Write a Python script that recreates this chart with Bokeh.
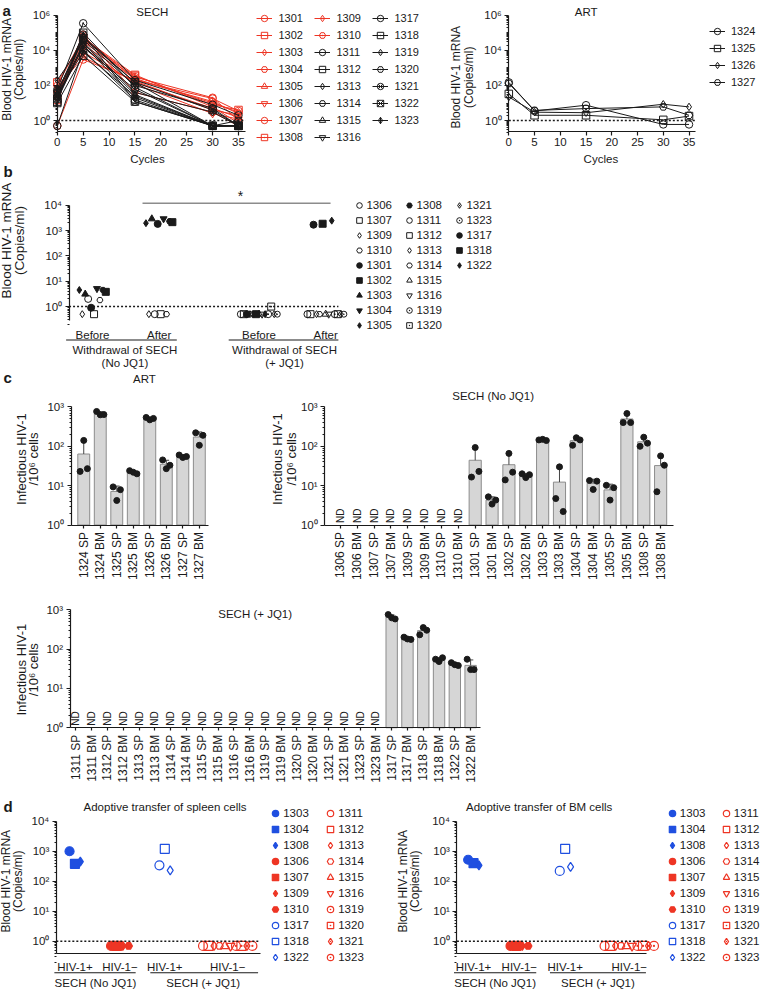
import math
import statistics
from bokeh.plotting import figure
from bokeh.models import (Range1d, LogScale, LinearAxis, LogAxis, FixedTicker,
                          CustomJSTickFormatter, Label, Legend, LegendItem)
from bokeh.embed import file_html
from bokeh.resources import INLINE
from bokeh.core.properties import value

FONT = "Liberation Sans"
INK = "#1a1a1a"
RED = "#ee3524"
BLUE = "#1f4fe0"
GREY = "#8c8c8c"
BAR_FILL = "#d6d6d6"

# ======================= DATA =======================
# (a) blood HIV-1 RNA (copies/ml) at each treatment cycle
cycles = [0, 5, 15, 30, 35]
sech_mice = ["1301", "1302", "1303", "1304", "1305", "1306", "1307", "1308", "1309", "1310",
             "1311", "1312", "1313", "1314", "1315", "1316", "1317", "1318", "1319", "1320",
             "1321", "1322", "1323"]
sech_rna = [
    [0.5, 3000, 200, 18, 3.5],
    [150, 40000, 350, 8, 4],
    [30, 20000, 250, 10, 3],
    [100, 60000, 220, 12, 2.5],
    [60, 8000, 150, 5, 1.5],
    [20, 15000, 120, 2.5, 1.2],
    [40, 30000, 300, 20, 1],
    [15, 50000, 400, 6, 0.7],
    [80, 4000, 180, 4, 2],
    [25, 80000, 40, 3, 0.5],
    [0.5, 10000, 15, 0.5, 0.5],
    [10, 5000, 12, 0.5, 0.5],
    [20, 25000, 30, 0.5, 0.5],
    [50, 40000, 100, 5, 0.5],
    [30, 60000, 150, 0.5, 0.5],
    [15, 20000, 20, 0.5, 0.5],
    [60, 350000, 200, 8, 2],
    [12, 100000, 80, 0.5, 0.5],
    [200, 30000, 40, 3, 0.5],
    [25, 15000, 60, 0.5, 1],
    [40, 80000, 12, 0.5, 0.5],
    [18, 50000, 150, 4, 0.5],
    [35, 8000, 25, 0.5, 0.5],
]
art_mice = ["1324", "1325", "1326", "1327"]
art_rna = [
    [150, 3.5, 7.5, 0.6, 0.6],
    [33, 2.0, 2.0, 1.1, 1.8],
    [22, 3.0, 2.8, 8.5, 6.0],
    [130, 3.8, 4.8, 6.0, 2.0],
]

# (b) before / after withdrawal of SECH
nojq1_mice = ["1301", "1302", "1303", "1304", "1305", "1306", "1307", "1308", "1309", "1310"]
nojq1_before = [0.9, 3.8, 3.1, 5.1, 4.5, 2.0, 0.5, 4.5, 0.5, 1.8]
nojq1_after = [1830, 2140, 2900, 2900, 1950, 0.5, 0.5, 2300, 0.5, 0.5]
jq1_mice = ["1311", "1312", "1313", "1314", "1315", "1316", "1317", "1318", "1319", "1320",
            "1321", "1322", "1323"]
jq1_before = [0.5, 0.5, 0.5, 0.5, 0.5, 0.5, 0.5, 0.5, 0.5, 1.0, 0.5, 0.5, 0.5]
jq1_after = [0.5, 0.5, 0.5, 0.5, 0.5, 0.5, 1700, 1850, 0.5, 0.5, 0.5, 2450, 0.5]
b_ticks = ["Before", "After", "Before", "After"]
b_groups = [("Withdrawal of SECH", "(No JQ1)"), ("Withdrawal of SECH", "(+ JQ1)")]
b_legend_order = ["1306", "1307", "1309", "1310", "1301", "1302", "1303", "1304", "1305",
                  "1308", "1311", "1312", "1313", "1314", "1315", "1316", "1319", "1320",
                  "1321", "1323", "1317", "1318", "1322"]
b_nojq1_order = ["1305", "1309", "1303", "1306", "1301", "1307", "1304", "1310", "1308", "1302"]
b_jq1_order = ["1311", "1312", "1317", "1313", "1314", "1318", "1315", "1316", "1322", "1319",
               "1320", "1321", "1323"]

# (c) infectious HIV-1 per 10^6 cells (triplicates; None = not detected)
c_art_labels = ["1324 SP", "1324 BM", "1325 SP", "1325 BM", "1326 SP", "1326 BM", "1327 SP", "1327 BM"]
c_art_reps = [[23, 141, 27], [766, 631, 640], [9.3, 4.2, 7.9], [24, 21.9, 20],
              [540, 470, 510], [45, 27, 33], [60, 52, 55], [220, 106, 190]]
c_nojq1_labels = ["1306 SP", "1306 BM", "1307 SP", "1307 BM", "1309 SP", "1309 BM", "1310 SP", "1310 BM",
                  "1301 SP", "1301 BM", "1302 SP", "1302 BM", "1303 SP", "1303 BM", "1304 SP", "1304 BM",
                  "1305 SP", "1305 BM", "1308 SP", "1308 BM"]
c_nojq1_reps = [None, None, None, None, None, None, None, None,
                [16.5, 93, 23], [5.2, 3.4, 4.3], [14, 66, 22], [20, 16, 19],
                [145, 150, 140], [4.7, 30, 2.2], [106, 165, 145], [13.5, 8, 13],
                [10.2, 4.3, 8.9], [400, 680, 400], [100, 170, 120], [7, 57, 33]]
c_jq1_labels = ["1311 SP", "1311 BM", "1312 SP", "1312 BM", "1313 SP", "1313 BM", "1314 SP", "1314 BM",
                "1315 SP", "1315 BM", "1316 SP", "1316 BM", "1319 SP", "1319 BM", "1320 SP", "1320 BM",
                "1321 SP", "1321 BM", "1323 SP", "1323 BM", "1317 SP", "1317 BM", "1318 SP", "1318 BM",
                "1322 SP", "1322 BM"]
c_jq1_reps = [None, None, None, None, None, None, None, None, None, None,
              None, None, None, None, None, None, None, None, None, None,
              [750, 620, 580], [200, 180, 175], [230, 350, 300], [55, 48, 60],
              [45, 40, 38], [55, 30, 30]]

# (d) adoptive transfer
d_pos_nojq1 = ["1303", "1304", "1308"]
d_neg_nojq1 = ["1306", "1307", "1309", "1310"]
d_pos_jq1 = ["1317", "1318", "1322"]
d_neg_jq1 = ["1311", "1312", "1313", "1314", "1315", "1316", "1319", "1320", "1321", "1323"]
d_spleen = {"1303": 1000, "1304": 380, "1308": 450,
            "1306": 0.7, "1307": 0.7, "1309": 0.7, "1310": 0.7,
            "1317": 340, "1318": 1200, "1322": 230,
            "1311": 0.7, "1312": 0.7, "1313": 0.7, "1314": 0.7, "1315": 0.7,
            "1316": 0.7, "1319": 0.7, "1320": 0.7, "1321": 0.7, "1323": 0.7}
d_bm = {"1303": 520, "1304": 400, "1308": 340,
        "1306": 0.7, "1307": 0.7, "1309": 0.7, "1310": 0.7,
        "1317": 220, "1318": 1200, "1322": 300,
        "1311": 0.7, "1312": 0.7, "1313": 0.7, "1314": 0.7, "1315": 0.7,
        "1316": 0.7, "1319": 0.7, "1320": 0.7, "1321": 0.7, "1323": 0.7}
d_ticks = ["HIV-1+", "HIV-1\u2212", "HIV-1+", "HIV-1\u2212"]
d_groups = ["SECH (No JQ1)", "SECH (+ JQ1)"]
d_legend_order = ["1303", "1304", "1308", "1306", "1307", "1309", "1310", "1317", "1318", "1322",
                  "1311", "1312", "1313", "1314", "1315", "1316", "1319", "1320", "1321", "1323"]

# ======================= STYLE MAPS =======================
sech_marker = ["circle", "square", "diamond", "hex", "triangle", "inverted_triangle", "circle_dot",
               "square_dot", "diamond_dot", "hex_dot",
               "circle", "square", "diamond", "hex", "triangle", "inverted_triangle", "circle_dot",
               "square_dot", "diamond_dot", "hex_dot", "circle_x", "square_x", "diamond_cross"]
art_marker = ["circle", "square", "diamond", "hex"]
B_SYMBOL = {"1301": "circle", "1302": "square", "1303": "triangle", "1304": "inverted_triangle",
            "1305": "diamond", "1306": "circle", "1307": "square", "1308": "hex", "1309": "diamond",
            "1310": "hex", "1311": "circle", "1312": "square", "1313": "diamond", "1314": "hex",
            "1315": "triangle", "1316": "inverted_triangle", "1317": "circle", "1318": "square",
            "1319": "circle_dot", "1320": "square_dot", "1321": "diamond_dot", "1322": "diamond",
            "1323": "circle_dot"}
B_FILLED = {"1301", "1302", "1303", "1304", "1305", "1308", "1317", "1318", "1322"}
D_SYMBOL = dict(B_SYMBOL)
D_SYMBOL.update({"1303": "circle", "1304": "square", "1308": "diamond"})
D_FILLED = set(d_pos_nojq1 + d_neg_nojq1)
D_BLUE = set(d_pos_nojq1 + d_pos_jq1)

# ======================= CANVAS =======================
W, H = 761, 989
SX, SY = W / 777.0, H / 1005.0


def X(r):
    return r * SX


def Y(r):
    return r * SY


p = figure(width=W, height=H, x_range=Range1d(0, W), y_range=Range1d(H, 0),
           x_axis_type=None, y_axis_type=None, toolbar_location=None,
           output_backend="svg", min_border=0, outline_line_color=None)
p.background_fill_color = "white"
p.border_fill_color = "white"

XR, YR, YS = {}, {}, {}


def space(name, rx, dx, ry, dy):
    ca, cb = X(rx[0]), X(rx[1])
    k = (cb - ca) / (dx[1] - dx[0])
    XR[name] = Range1d(dx[0] - ca / k, dx[0] + (W - ca) / k)
    ua, ub = math.log10(dy[0]), math.log10(dy[1])
    ca, cb = Y(ry[0]), Y(ry[1])
    k = (cb - ca) / (ub - ua)
    YR[name] = Range1d(10 ** (ua + (H - ca) / k), 10 ** (ua - ca / k))
    YS[name] = LogScale()


POW = CustomJSTickFormatter(code="""
const e = Math.round(Math.log10(tick));
const s = {'-':'\u207b','0':'\u2070','1':'\u00b9','2':'\u00b2','3':'\u00b3','4':'\u2074',
           '5':'\u2075','6':'\u2076','7':'\u2077','8':'\u2078','9':'\u2079'};
return '10' + String(e).split('').map(c => s[c]).join('');
""")


def label_fmt(tick_values, tick_labels):
    return CustomJSTickFormatter(args=dict(tv=list(tick_values), tl=list(tick_labels)), code="""
for (let i = 0; i < tv.length; i++) { if (Math.abs(tv[i] - tick) < 1e-6) return tl[i]; }
return '';
""")


def style_axis(ax, size):
    ax.axis_line_color = INK
    ax.axis_line_width = 1.2
    ax.major_tick_line_color = INK
    ax.major_tick_line_width = 1.2
    ax.minor_tick_line_color = INK
    ax.minor_tick_line_width = 1
    ax.major_tick_in = 0
    ax.major_tick_out = 4
    ax.minor_tick_in = 0
    ax.minor_tick_out = 2
    ax.major_label_text_font = FONT
    ax.major_label_text_font_size = size
    ax.major_label_text_color = INK
    ax.major_label_standoff = 3


def log_minors(k0, k1, skip=()):
    out = [m * 10.0 ** k for k in range(k0, k1) for m in range(2, 10)]
    return out + [10.0 ** k for k in skip]


def y_axis(name, xloc, lo, hi, majors, minors, size="11.5px"):
    ax = LogAxis(x_range_name=name, y_range_name=name, fixed_location=xloc, bounds=(lo, hi),
                 ticker=FixedTicker(ticks=majors, minor_ticks=minors), formatter=POW)
    style_axis(ax, size)
    p.add_layout(ax, "left")
    return ax


def x_axis(name, yloc, lo, hi, ticks, labels=None, size="11.5px"):
    ax = LinearAxis(x_range_name=name, y_range_name=name, fixed_location=yloc, bounds=(lo, hi),
                    ticker=FixedTicker(ticks=ticks, minor_ticks=[]))
    if labels is not None:
        ax.formatter = label_fmt(ticks, labels)
    style_axis(ax, size)
    p.add_layout(ax, "below")
    return ax


def lab(text, rx, ry, size="11.5px", align="center", baseline="middle", angle=0.0, bold=False):
    p.add_layout(Label(x=X(rx), y=Y(ry), text=text, text_align=align, text_baseline=baseline,
                       angle=angle, text_font=FONT, text_font_size=size, text_color=INK,
                       text_font_style="bold" if bold else "normal"))


def ytitle(lines, rxs, ry, size):
    for t, rx in zip(lines, rxs):
        lab(t, rx, ry, size=size, angle=math.pi / 2)


def rule(rx0, rx1, ry, color=INK, width=1.2):
    p.segment(x0=[X(rx0)], y0=[Y(ry)], x1=[X(rx1)], y1=[Y(ry)], line_color=color, line_width=width)


def make_legend(items, cx_r, cy_r, nrows, glyph, spacing, standoff, label_w, size):
    lh = nrows * glyph + (nrows - 1) * spacing
    top = Y(cy_r) - glyph / 2.0
    left = X(cx_r) - glyph / 2.0
    leg = Legend(items=items, location=(left, H - top - lh), nrows=nrows, orientation="vertical",
                 glyph_width=glyph, glyph_height=glyph, label_height=glyph, label_width=label_w,
                 label_standoff=standoff, spacing=spacing, padding=0, margin=0,
                 border_line_alpha=0, background_fill_alpha=0,
                 label_text_font=FONT, label_text_font_size=size, label_text_color=INK)
    p.add_layout(leg)


def spread(order, step_px, k):
    n = len(order)
    return {m: (i - (n - 1) / 2.0) * step_px / k for i, m in enumerate(order)}


# ======================= PANEL A =======================
A_DEC = (122 - 15) / 6.0
A_LO = 10 ** (-(133 - 122) / A_DEC)
A_XK = (243 - 58) / 35.0
A_XEND = (250 - 58) / A_XK
A_MAJ = [1, 1e2, 1e4, 1e6]
A_MIN = log_minors(-1, 6, skip=(1, 3, 5))

space("a1", (58, 243), (0, 35), (122, 15), (1, 1e6))
a1_items = []
for i, m in enumerate(sech_mice):
    c = RED if i < 10 else INK
    r1 = p.line(cycles, sech_rna[i], line_color=c, line_width=1, x_range_name="a1", y_range_name="a1")
    r2 = p.scatter(cycles, sech_rna[i], marker=sech_marker[i], size=7.5, line_color=c,
                   fill_color=None, line_width=1, x_range_name="a1", y_range_name="a1")
    a1_items.append(LegendItem(label=m, renderers=[r1, r2]))
p.line([0, A_XEND], [1, 1], line_dash="2 2", line_color=INK, line_width=1.4,
       x_range_name="a1", y_range_name="a1")
y_axis("a1", 0, A_LO, 1e6, A_MAJ, A_MIN)
x_axis("a1", A_LO, 0, A_XEND, [0, 5, 10, 15, 20, 25, 30, 35])
make_legend(a1_items, 270, 18, 8, 16, 1, 6, 35, "11px")

space("a2", (519, 703), (0, 35), (122, 15), (1, 1e6))
a2_items = []
for i, m in enumerate(art_mice):
    r1 = p.line(cycles, art_rna[i], line_color=INK, line_width=1, x_range_name="a2", y_range_name="a2")
    r2 = p.scatter(cycles, art_rna[i], marker=art_marker[i], size=7.5, line_color=INK,
                   fill_color=None, line_width=1, x_range_name="a2", y_range_name="a2")
    a2_items.append(LegendItem(label=m, renderers=[r1, r2]))
p.line([0, A_XEND], [1, 1], line_dash="2 2", line_color=INK, line_width=1.4,
       x_range_name="a2", y_range_name="a2")
y_axis("a2", 0, A_LO, 1e6, A_MAJ, A_MIN)
x_axis("a2", A_LO, 0, A_XEND, [0, 5, 10, 15, 20, 25, 30, 35])
make_legend(a2_items, 732, 32, 4, 16, 1, 6, 35, "11px")

lab("a", 2, 10, size="15px", align="left", bold=True)
lab("SECH", 155, 12)
lab("ART", 598, 12)
lab("Cycles", 150, 161)
lab("Cycles", 613, 161)
ytitle(["Blood HIV-1 mRNA", "(Copies/ml)"], [6.5, 18.5], 70, "12px")
ytitle(["Blood HIV-1 mRNA", "(Copies/ml)"], [465, 478], 78, "12px")

# ======================= PANEL B =======================
B_K = (332 - 94) / 3.5
B_DEC = (311 - 208) / 4.0
B_X0 = 1 - (94 - 70) / B_K
B_X1 = 4.5 + (345 - 332) / B_K
B_LO = 10 ** (-(325 - 311) / B_DEC)
space("b", (94, 332), (1, 4.5), (311, 208), (1, 1e4))
off1 = spread(b_nojq1_order, 3.0, B_K)
off2 = spread(b_jq1_order, 3.1, B_K)
b_rend = {}
for mice, before, after, off, gx in ((nojq1_mice, nojq1_before, nojq1_after, off1, (1, 2)),
                                     (jq1_mice, jq1_before, jq1_after, off2, (3.5, 4.5))):
    for m, v0, v1 in zip(mice, before, after):
        mk = B_SYMBOL[m]
        sz = 6 if mk == "hex" or m == "1323" else 7
        b_rend[m] = p.scatter([gx[0] + off[m], gx[1] + off[m]], [v0, v1], marker=mk, size=sz,
                              line_color=INK, fill_color=INK if m in B_FILLED else None,
                              line_width=1, x_range_name="b", y_range_name="b")
p.line([B_X0, B_X1], [1, 1], line_dash="2 2", line_color=INK, line_width=1.4,
       x_range_name="b", y_range_name="b")
y_axis("b", B_X0, B_LO, 1e4, [1, 10, 100, 1e3, 1e4], log_minors(-1, 4))
bx = x_axis("b", B_LO, B_X0, B_X1, [1, 2, 3.5, 4.5], b_ticks)
bx.axis_line_color = None
bx.major_tick_line_color = None
bx.major_label_standoff = 5
make_legend([LegendItem(label=m, renderers=[b_rend[m]]) for m in b_legend_order],
            367, 208, 9, 14, 1, 0, 35, "11.5px")

lab("b", 3, 174, size="15px", align="left", bold=True)
rule(145, 337, 206, color=GREY, width=1.5)
lab("*", 245, 199, size="14px")
ytitle(["Blood HIV-1 mRNA", "(Copies/ml)"], [6.5, 19.5], 244, "13.5px")
rule(67, 180, 345)
rule(233, 345, 345)
for (l1, l2), cx in zip(b_groups, (127, 290)):
    lab(l1, cx, 355)
    lab(l2, cx, 368)

# ======================= PANEL C =======================
DOT_OFF = (-0.22, 0.0, 0.22)


def bar_panel(name, labels, reps, rx, ry, frame_l, frame_r):
    n = len(labels)
    k = (rx[1] - rx[0]) / (n - 1.0)
    space(name, rx, (0, n - 1), ry, (1, 1000))
    x0 = -(rx[0] - frame_l) / k
    x1 = (n - 1) + (frame_r - rx[1]) / k
    det = [i for i in range(n) if reps[i] is not None]
    nd = [i for i in range(n) if reps[i] is None]
    means = [statistics.mean(reps[i]) for i in det]
    tops = [statistics.mean(reps[i]) + statistics.stdev(reps[i]) for i in det]
    kw = dict(x_range_name=name, y_range_name=name)
    p.vbar(x=det, top=means, bottom=1, width=0.72, fill_color=BAR_FILL, line_color=GREY,
           line_width=1, **kw)
    p.segment(x0=det, y0=means, x1=det, y1=tops, line_color="#444444", line_width=1, **kw)
    p.segment(x0=[i - 0.17 for i in det], y0=tops, x1=[i + 0.17 for i in det], y1=tops,
              line_color="#444444", line_width=1, **kw)
    xs, ys = [], []
    for i in det:
        for o, v in zip(DOT_OFF, reps[i]):
            xs.append(i + o)
            ys.append(v)
    p.scatter(xs, ys, marker="circle", size=6, line_color=INK, fill_color=INK, **kw)
    if nd:
        p.text(x=nd, y=[1] * len(nd), text=["ND"] * len(nd), angle=math.pi / 2,
               text_align="left", text_baseline="middle", text_font=value(FONT),
               text_font_size="10px", text_color=INK, y_offset=-2, **kw)
    y_axis(name, x0, 1, 1000, [1, 10, 100, 1000], log_minors(0, 3))
    ax = x_axis(name, 1, x0, x1, list(range(n)), labels, size="12px")
    ax.major_label_orientation = math.pi / 2
    ax.major_tick_out = 3
    ax.major_label_standoff = 4


bar_panel("c1", c_art_labels, c_art_reps, (85, 203), (533, 413), 72, 212)
bar_panel("c2", c_nojq1_labels, c_nojq1_reps, (347, 674), (533, 413), 331, 687)
bar_panel("c3", c_jq1_labels, c_jq1_reps, (77, 480), (739, 619), 71, 490)

lab("c", 3, 383, size="15px", align="left", bold=True)
lab("ART", 147, 385)
lab("SECH (No JQ1)", 503, 402)
lab("SECH (+ JQ1)", 260, 623)
ytitle(["Infectious HIV-1", "/10\u2076 cells"], [21, 34], 466, "13px")
ytitle(["Infectious HIV-1", "/10\u2076 cells"], [283, 297], 466, "13px")
ytitle(["Infectious HIV-1", "/10\u2076 cells"], [21, 34], 680, "13px")

# ======================= PANEL D =======================
D_DEC = (956 - 834) / 4.0
D_LO = 10 ** (-(968 - 956) / D_DEC)


def d_panel(name, rx, frame_l, frame_r, vals):
    k = (rx[1] - rx[0]) / 3.4
    space(name, rx, (1, 4.4), (956, 834), (1, 1e4))
    x0 = 1 - (rx[0] - frame_l) / k
    x1 = 4.4 + (frame_r - rx[1]) / k
    rend = {}
    for mice, gx, step in ((d_pos_nojq1, 1, 5.5), (d_neg_nojq1, 2, 6.0),
                           (d_pos_jq1, 3, 5.5), (d_neg_jq1, 4.4, 5.6)):
        off = spread(mice, step, k)
        for m in mice:
            col = BLUE if m in D_BLUE else RED
            mk = D_SYMBOL[m]
            rend[m] = p.scatter([gx + off[m]], [vals[m]], marker=mk, size=7.5 if mk == "hex" else 9,
                                line_color=col, fill_color=col if m in D_FILLED else None,
                                line_width=1.2, x_range_name=name, y_range_name=name)
    p.line([x0, x1], [1, 1], line_dash="2 2", line_color=INK, line_width=1.4,
           x_range_name=name, y_range_name=name)
    y_axis(name, x0, D_LO, 1e4, [1, 10, 100, 1e3, 1e4], log_minors(-1, 4))
    ax = x_axis(name, D_LO, x0, x1, [1, 2, 3, 4.4], d_ticks)
    ax.major_tick_line_color = None
    ax.major_label_standoff = 4
    return rend


d1 = d_panel("d1", (76, 232), 57, 265, d_spleen)
d2 = d_panel("d2", (483, 642), 466, 660, d_bm)
make_legend([LegendItem(label=m, renderers=[d1[m]]) for m in d_legend_order],
            281, 826, 10, 16, 0, 0, 39, "11.5px")
make_legend([LegendItem(label=m, renderers=[d2[m]]) for m in d_legend_order],
            686, 826, 10, 16, 0, 0, 38, "11.5px")

lab("d", 3, 819, size="15px", align="left", bold=True)
lab("Adoptive transfer of spleen cells", 168, 820)
lab("Adoptive transfer of BM cells", 550, 820)
ytitle(["Blood HIV-1 mRNA", "(Copies/ml)"], [5.5, 17.5], 895, "12px")
ytitle(["Blood HIV-1 mRNA", "(Copies/ml)"], [411, 423], 895, "12px")
for (a, b_), cx, g in (((55, 138), 97, d_groups[0]), ((153, 263), 207, d_groups[1]),
                       ((463, 547), 505, d_groups[0]), ((561, 659), 610, d_groups[1])):
    rule(a, b_, 988)
    lab(g, cx, 998)

p.extra_x_ranges = XR
p.extra_y_ranges = YR
p.extra_y_scales = YS

open("out.html", "w").write(file_html(p, INLINE))
